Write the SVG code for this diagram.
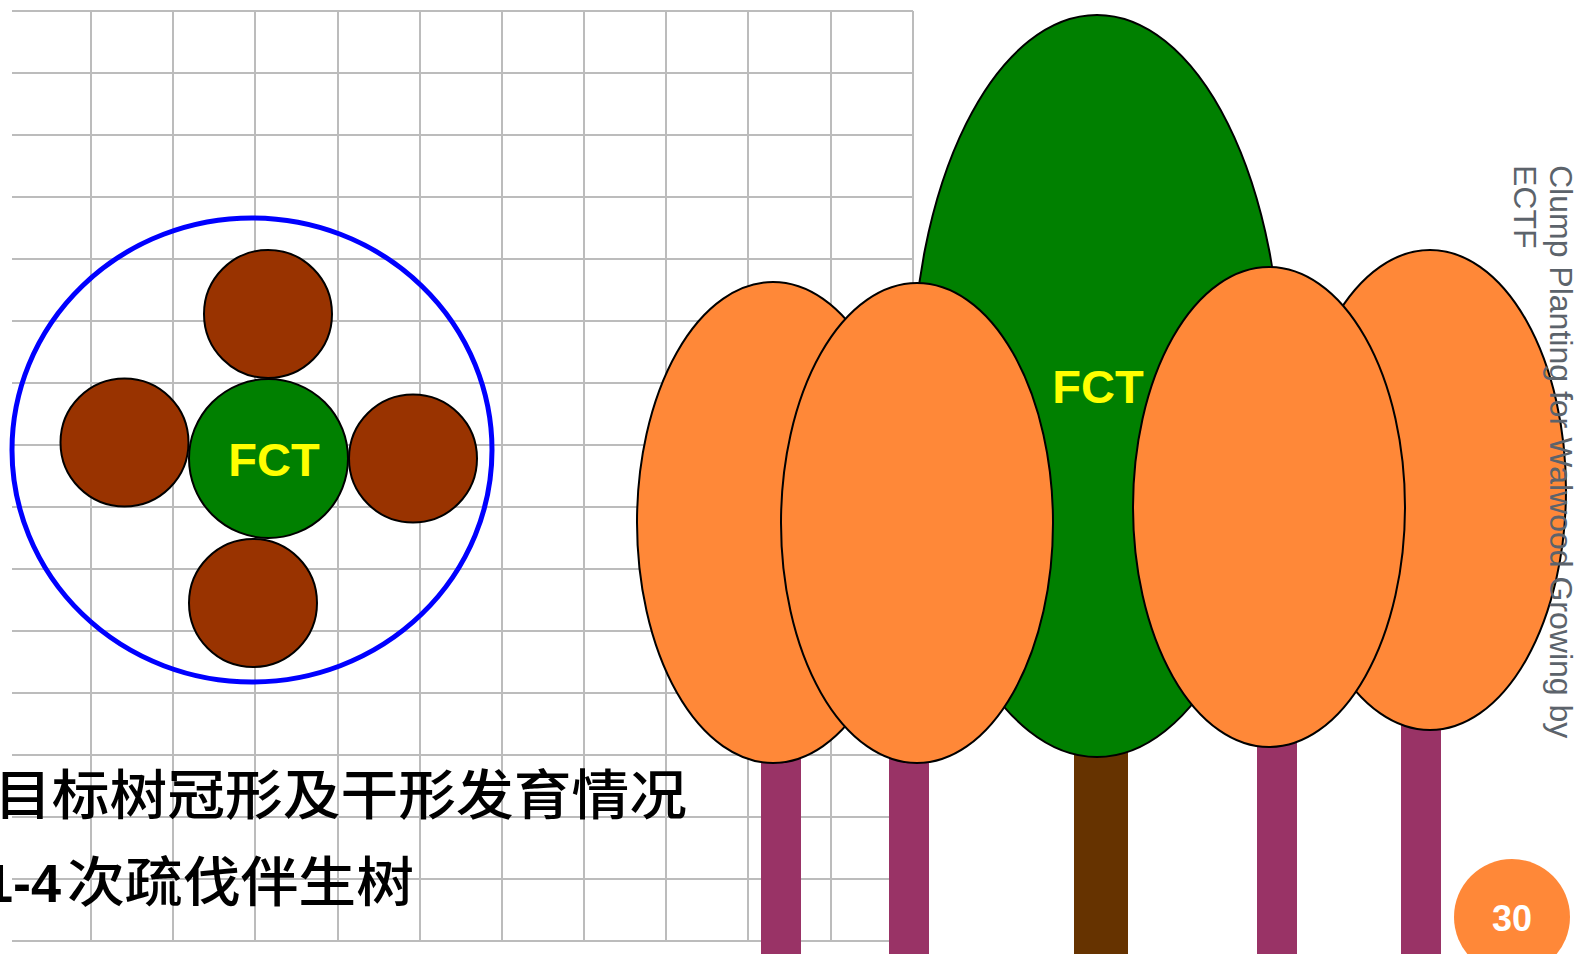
<svg xmlns="http://www.w3.org/2000/svg" width="1577" height="954" viewBox="0 0 1577 954">
  <style>
    .grid line { stroke: #bcbcbc; stroke-width: 2; }
    .crown { stroke: #000; stroke-width: 2; }
    .orange { fill: #ff8838; }
    .pine { fill: #993300; stroke: #000; stroke-width: 2; }
    .fct { fill: #008000; stroke: #000; stroke-width: 2; }
    .trunk-m { fill: #993366; }
    .trunk-b { fill: #663300; }
    .label { font-family: "Liberation Sans", Arial, sans-serif; font-weight: bold; fill: #ffff00; text-anchor: middle; }
    .cn { font-family: "Noto Sans CJK SC", "Liberation Sans", sans-serif; font-weight: 500; fill: #000; }
  </style>

  <rect width="1577" height="954" fill="#fff"/>

  <!-- background grid paper -->
  <g class="grid" id="grid">
    <line x1="12" y1="11" x2="913" y2="11"/>
    <line x1="12" y1="73" x2="913" y2="73"/>
    <line x1="12" y1="135" x2="913" y2="135"/>
    <line x1="12" y1="197" x2="913" y2="197"/>
    <line x1="12" y1="259" x2="913" y2="259"/>
    <line x1="12" y1="321" x2="913" y2="321"/>
    <line x1="12" y1="383" x2="913" y2="383"/>
    <line x1="12" y1="445" x2="913" y2="445"/>
    <line x1="12" y1="507" x2="913" y2="507"/>
    <line x1="12" y1="569" x2="913" y2="569"/>
    <line x1="12" y1="631" x2="913" y2="631"/>
    <line x1="12" y1="693" x2="913" y2="693"/>
    <line x1="12" y1="755" x2="913" y2="755"/>
    <line x1="12" y1="817" x2="913" y2="817"/>
    <line x1="12" y1="879" x2="913" y2="879"/>
    <line x1="12" y1="941" x2="913" y2="941"/>
    <line x1="91" y1="11" x2="91" y2="941"/>
    <line x1="173" y1="11" x2="173" y2="941"/>
    <line x1="255" y1="11" x2="255" y2="941"/>
    <line x1="338" y1="11" x2="338" y2="941"/>
    <line x1="420" y1="11" x2="420" y2="941"/>
    <line x1="502" y1="11" x2="502" y2="941"/>
    <line x1="584" y1="11" x2="584" y2="941"/>
    <line x1="666" y1="11" x2="666" y2="941"/>
    <line x1="748" y1="11" x2="748" y2="941"/>
    <line x1="831" y1="11" x2="831" y2="941"/>
    <line x1="913" y1="11" x2="913" y2="941"/>
  </g>

  <!-- plan view of the clump -->
  <g id="clump-plan">
    <ellipse cx="252" cy="450" rx="240" ry="232" fill="none" stroke="#0000ff" stroke-width="5"/>
    <circle id="plan-top" class="pine" cx="268" cy="314" r="64"/>
    <circle id="plan-left" class="pine" cx="124.5" cy="442.5" r="64"/>
    <circle id="plan-right" class="pine" cx="413" cy="458.5" r="64"/>
    <circle id="plan-bottom" class="pine" cx="253" cy="603" r="64"/>
    <g id="plan-fct">
      <circle class="fct" cx="268.5" cy="458.5" r="79.5"/>
      <text class="label" x="274" y="476" font-size="47">FCT</text>
    </g>
  </g>

  <!-- captions -->
  <g id="captions">
    <text class="cn" x="-6" y="815" font-size="54" textLength="693" lengthAdjust="spacingAndGlyphs">目标树冠形及干形发育情况</text>
    <text x="-17" y="902" font-size="54"><tspan font-family="'Liberation Sans', Arial, sans-serif" font-weight="bold">1-4</tspan><tspan class="cn" x="67" textLength="347" lengthAdjust="spacingAndGlyphs">次疏伐伴生树</tspan></text>
  </g>

  <!-- elevation view: trunks -->
  <g id="trunks">
    <rect class="trunk-m" x="761" y="700" width="40" height="254"/>
    <rect class="trunk-m" x="889" y="700" width="40" height="254"/>
    <rect class="trunk-b" x="1074" y="700" width="54" height="254"/>
    <rect class="trunk-m" x="1257" y="700" width="40" height="254"/>
    <rect class="trunk-m" x="1401" y="700" width="40" height="254"/>
  </g>

  <!-- elevation view: crowns -->
  <g id="tree-fct">
    <ellipse class="crown" cx="1097" cy="386" rx="185" ry="371" fill="#008000"/>
    <text class="label" x="1098" y="403" font-size="47">FCT</text>
  </g>
  <g id="tree-1"><ellipse class="crown orange" cx="773" cy="522.5" rx="136" ry="240.5"/></g>
  <g id="tree-4"><ellipse class="crown orange" cx="1430" cy="490" rx="136" ry="240"/></g>
  <g id="tree-2"><ellipse class="crown orange" cx="917" cy="523" rx="136" ry="240"/></g>
  <g id="tree-3"><ellipse class="crown orange" cx="1269" cy="507" rx="136" ry="240"/></g>

  <!-- side title -->
  <text transform="translate(1550,165) rotate(90)" font-family="'Liberation Sans', Arial, sans-serif" font-size="32" fill="#5c636b">Clump Planting for Walwood Growing by<tspan x="0" dy="36">ECTF</tspan></text>

  <!-- page number -->
  <g id="page-number">
    <circle cx="1512" cy="917" r="58" fill="#ff8838"/>
    <text x="1512" y="931" font-family="'Liberation Sans', Arial, sans-serif" font-weight="bold" font-size="36" fill="#fff" text-anchor="middle">30</text>
  </g>
</svg>
